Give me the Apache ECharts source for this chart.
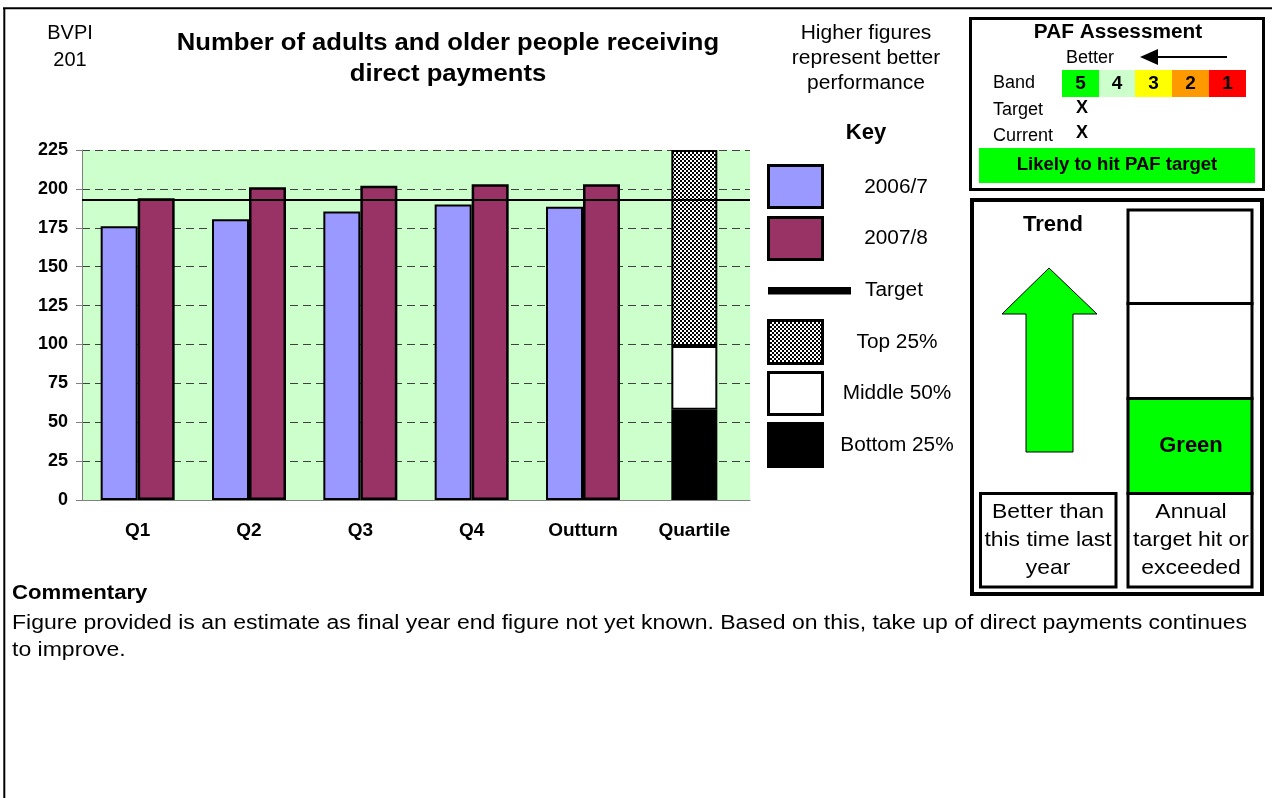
<!DOCTYPE html>
<html>
<head>
<meta charset="utf-8">
<title>BVPI 201</title>
<script src="https://cdn.jsdelivr.net/npm/echarts@6/dist/echarts.min.js"></script>
<style>
  html, body { margin: 0; padding: 0; background: #fff; }
  #chart { width: 1272px; height: 798px; }
</style>
</head>
<body>
<div id="chart"></div>
<script>
// data
const categories = ['Q1', 'Q2', 'Q3', 'Q4', 'Outturn', 'Quartile'];
const year0607 = [176, 180.5, 185.5, 190, 188.5, '-'];
const year0708 = [194, 201, 202, 203, 203, '-'];
const target = 193;
// quartile band edges: bottom 25% to 58, middle 50% to 99, top 25% to 225
const quartileEdges = [0, 58, 99, 225];
const bandLabels = ['5', '4', '3', '2', '1'];

const FONT = "'Liberation Sans', Arial, sans-serif";

function checker() {
  let c = document.createElement('canvas');
  c.width = 4; c.height = 4;
  let ctx = c.getContext('2d');
  ctx.fillStyle = '#fff'; ctx.fillRect(0, 0, 4, 4);
  ctx.fillStyle = '#000'; ctx.fillRect(0, 0, 2, 2); ctx.fillRect(2, 2, 2, 2);
  return c;
}
const checkFill = { image: checker(), repeat: 'repeat' };

// one quartile band per stacked piece, only in the last category
function quartilePiece(i) {
  return categories.map((c, k) => k === categories.length - 1 ? quartileEdges[i + 1] - quartileEdges[i] : '-');
}

// the reference text is a little wider than Arial, so stretch it a touch
function txt(x, y, str, size, bold, align, lh, sx) {
  return {
    type: 'text', x: x, y: y, scaleX: sx || 1, silent: true,
    style: {
      text: str, fontSize: size, fontWeight: bold ? 'bold' : 'normal', fontFamily: FONT,
      fill: '#000', textAlign: align || 'center', textVerticalAlign: 'middle', lineHeight: lh || size * 1.2
    }
  };
}
function box(x, y, w, h, fill, lw) {
  return {
    type: 'rect', silent: true, shape: { x: x, y: y, width: w, height: h },
    style: { fill: fill || '#fff', stroke: lw ? '#000' : null, lineWidth: lw || 0 }
  };
}
function line(x1, y1, x2, y2, lw) {
  return { type: 'line', silent: true, shape: { x1: x1, y1: y1, x2: x2, y2: y2 }, style: { stroke: '#000', lineWidth: lw } };
}

const bandColors = ['#00FF00', '#CCFFCC', '#FFFF00', '#FF9900', '#FF0000'];
const bandX = [1062, 1099, 1135, 1172, 1209, 1246];

let graphics = [
  line(3, 8.3, 1272, 8.3, 2),
  line(4.3, 8, 4.3, 798, 2),
  txt(70, 46.5, 'BVPI\n201', 20, false, 'center', 27),
  txt(448, 59.5, 'Number of adults and older people receiving\ndirect payments', 23.5, true, 'center', 31, 1.09),
  txt(866, 58, 'Higher figures\nrepresent better\nperformance', 20, false, 'center', 25, 1.05),
  txt(866, 133, 'Key', 22, true),
  // key
  box(768.5, 165.5, 54, 42, '#9999FF', 3),
  box(768.5, 217.5, 54, 42, '#993366', 3),
  box(768, 287, 83, 7.5, '#000', 0),
  box(768.5, 320.5, 54, 43, checkFill, 3),
  box(768.5, 372.5, 54, 42, '#fff', 3),
  box(768.5, 423.5, 54, 43, '#000', 3),
  txt(896, 187, '2006/7', 20, false, 'center', 24, 1.04),
  txt(896, 238, '2007/8', 20, false, 'center', 24, 1.04),
  txt(894, 290, 'Target', 20, false, 'center', 24, 1.04),
  txt(897, 342, 'Top 25%', 20, false, 'center', 24, 1.04),
  txt(897, 393, 'Middle 50%', 20, false, 'center', 24, 1.04),
  txt(897, 445, 'Bottom 25%', 20, false, 'center', 24, 1.04),
  // PAF assessment
  box(970.5, 18.5, 293, 171, '#fff', 3),
  txt(1118, 32, 'PAF Assessment', 20, true, 'center', 24, 1.04),
  txt(1066, 58, 'Better', 18, false, 'left'),
  line(1155, 57, 1227, 57, 2),
  { type: 'polygon', silent: true, shape: { points: [[1140, 57], [1158, 49], [1158, 65]] }, style: { fill: '#000' } },
  txt(993, 83, 'Band', 18, false, 'left'),
  txt(993, 110, 'Target', 18, false, 'left'),
  txt(993, 136, 'Current', 18, false, 'left'),
  txt(1082, 108, 'X', 18, true),
  txt(1082, 133, 'X', 18, true),
  box(979, 148, 276, 35, '#00FF00', 0),
  txt(1117, 165, 'Likely to hit PAF target', 18, true, 'center', 22, 1.03),
  // trend
  box(972, 200, 290, 394, '#fff', 4),
  txt(1053, 225, 'Trend', 22, true),
  { type: 'polygon', silent: true,
    shape: { points: [[1049, 268], [1097, 314], [1073, 314], [1073, 452], [1026, 452], [1026, 314], [1002, 314]] },
    style: { fill: '#00FF00', stroke: '#000', lineWidth: 1 } },
  box(1128, 210, 124, 93.5, '#fff', 3),
  box(1128, 303.5, 124, 95, '#fff', 3),
  box(1128, 398.5, 124, 95, '#00FF00', 3),
  box(1128, 493.5, 124, 93.5, '#fff', 3),
  box(980.5, 493.5, 135.5, 93.5, '#fff', 3),
  txt(1191, 446, 'Green', 22, true),
  txt(1048, 540, 'Better than\nthis time last\nyear', 21, false, 'center', 28, 1.09),
  txt(1191, 540, 'Annual\ntarget hit or\nexceeded', 21, false, 'center', 28, 1.09),
  // commentary
  txt(12, 593, 'Commentary', 21, true, 'left', 24, 1.055),
  txt(12, 636.5, 'Figure provided is an estimate as final year end figure not yet known. Based on this, take up of direct payments continues\nto improve.', 20, false, 'left', 27, 1.15)
];
bandLabels.forEach((b, i) => {
  graphics.push(box(bandX[i], 70, bandX[i + 1] - bandX[i], 27, bandColors[i], 0));
  graphics.push(txt((bandX[i] + bandX[i + 1]) / 2, 84, b, 19, true));
});

const chart = echarts.init(document.getElementById('chart'));
chart.setOption({
  animation: false,
  textStyle: { fontFamily: FONT },
  grid: { left: 82, right: 522, top: 150, bottom: 298, show: true, backgroundColor: '#CCFFCC', borderWidth: 0 },
  xAxis: [
    {
      type: 'category', data: categories,
      axisLine: { lineStyle: { color: '#808080', width: 1 } },
      axisTick: { length: 6, lineStyle: { color: '#808080' } },
      axisLabel: { interval: 0, fontWeight: 'bold', fontSize: 19, color: '#000', margin: 21 }
    },
    { type: 'category', data: categories, show: false }
  ],
  yAxis: {
    type: 'value', min: 0, max: 225, interval: 25,
    axisLine: { show: true, lineStyle: { color: '#808080' } },
    axisTick: { show: true, length: 6, lineStyle: { color: '#808080' } },
    axisLabel: { fontWeight: 'bold', fontSize: 18, color: '#000', margin: 14 },
    splitLine: { lineStyle: { type: [8, 5], color: '#404040' } }
  },
  series: [
    { name: '2006/7', type: 'bar', data: year0607, barWidth: 37, barGap: '0%',
      itemStyle: { color: '#9999FF', borderColor: '#000', borderWidth: 2 } },
    { name: '2007/8', type: 'bar', data: year0708, barWidth: 37,
      itemStyle: { color: '#993366', borderColor: '#000', borderWidth: 2.5 } },
    { name: 'Bottom 25%', type: 'bar', xAxisIndex: 1, stack: 'q', barWidth: 46, data: quartilePiece(0),
      itemStyle: { color: '#000', borderColor: '#000', borderWidth: 2 } },
    { name: 'Middle 50%', type: 'bar', xAxisIndex: 1, stack: 'q', barWidth: 46, data: quartilePiece(1),
      itemStyle: { color: '#fff', borderColor: '#000', borderWidth: 2 } },
    { name: 'Top 25%', type: 'bar', xAxisIndex: 1, stack: 'q', barWidth: 46, data: quartilePiece(2),
      itemStyle: { color: checkFill, borderColor: '#000', borderWidth: 2 } },
    { name: 'Target', type: 'line', data: [], z: 10,
      markLine: { silent: true, symbol: 'none', label: { show: false }, animation: false,
        lineStyle: { color: '#000', width: 2, type: 'solid' }, data: [{ yAxis: target }] } }
  ],
  graphic: graphics
});
window.addEventListener('resize', function () { chart.resize(); });
</script>
</body>
</html>
